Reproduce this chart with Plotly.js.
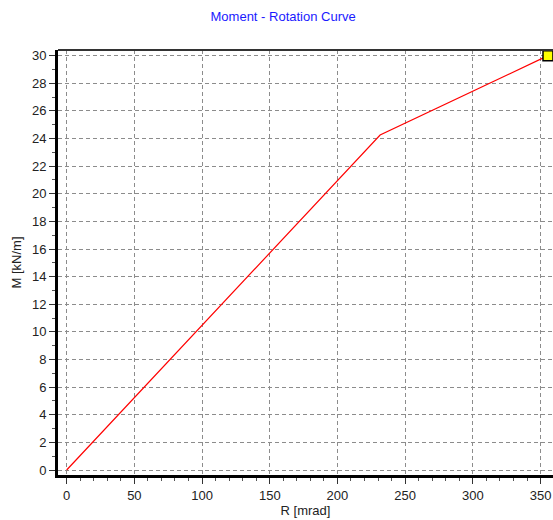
<!DOCTYPE html>
<html>
<head>
<meta charset="utf-8">
<script src="https://cdn.plot.ly/plotly-3.0.1.min.js"></script>
<style>html,body{margin:0;padding:0;background:#fff;}#chart{width:553px;height:520px;}</style>
</head>
<body>
<div id="chart"></div>
<script>
// Data
var rotation = [0, 231.5, 355.5];        // R [mrad]
var moment   = [0, 24.25, 30.0];         // M [kN/m]
var endRotation = [355.5];
var endMoment = [30.0];
var xTickVals = [0, 50, 100, 150, 200, 250, 300, 350];
var yTickVals = [0, 2, 4, 6, 8, 10, 12, 14, 16, 18, 20, 22, 24, 26, 28, 30];

var traces = [
  {
    x: rotation, y: moment, type: 'scatter', mode: 'lines',
    line: {color: '#ff0000', width: 1.2},
    hoverinfo: 'skip', cliponaxis: false
  },
  {
    x: endRotation, y: endMoment, type: 'scatter', mode: 'markers',
    marker: {symbol: 'square', size: 10, color: '#ffff00', line: {color: '#000', width: 1.5}},
    cliponaxis: false, hoverinfo: 'skip'
  }
];

var font = {family: 'Liberation Sans, Arial, sans-serif', size: 13, color: '#222'};

var layout = {
  width: 553, height: 520,
  margin: {l: 58, r: 0, t: 50, b: 45},
  paper_bgcolor: '#fff', plot_bgcolor: '#fff',
  showlegend: false,
  font: font,
  title: {text: 'Moment - Rotation Curve', x: 0.512, xanchor: 'center', y: 0.968, yanchor: 'middle',
          font: {family: 'Liberation Sans, Arial, sans-serif', size: 13, color: '#1a1aff'}},
  xaxis: {
    range: [-6.4, 359.2], tickvals: xTickVals, ticktext: xTickVals.map(String),
    showgrid: true, gridcolor: '#8c8c8c', griddash: '4px,3px', gridwidth: 1,
    zeroline: false, showline: true, linecolor: '#000', linewidth: 3,
    ticks: 'outside', ticklen: 6, tickcolor: '#333', tickwidth: 1,
    minor: {ticks: 'outside', dtick: 10, tick0: 0, ticklen: 3, tickcolor: '#555', showgrid: false},
    tickfont: font,
    title: {text: 'R [mrad]', font: font, standoff: 4}
  },
  yaxis: {
    range: [-0.36, 30.41], tickvals: yTickVals, ticktext: yTickVals.map(String),
    showgrid: true, gridcolor: '#8c8c8c', griddash: '4px,3px', gridwidth: 1,
    zeroline: false, showline: true, linecolor: '#000', linewidth: 3,
    ticks: 'outside', ticklen: 6, tickcolor: '#333', tickwidth: 1,
    minor: {ticks: 'outside', dtick: 1, tick0: 0, ticklen: 3, tickcolor: '#555', showgrid: false},
    tickfont: font,
    title: {text: 'M [kN/m]', font: font, standoff: 8}
  },
  shapes: [
    {type: 'line', xref: 'paper', yref: 'paper', x0: 0, x1: 1, y0: 1, y1: 1,
     line: {color: '#333', width: 2}}
  ]
};

Plotly.newPlot('chart', traces, layout, {displayModeBar: false, staticPlot: true});
</script>
</body>
</html>
